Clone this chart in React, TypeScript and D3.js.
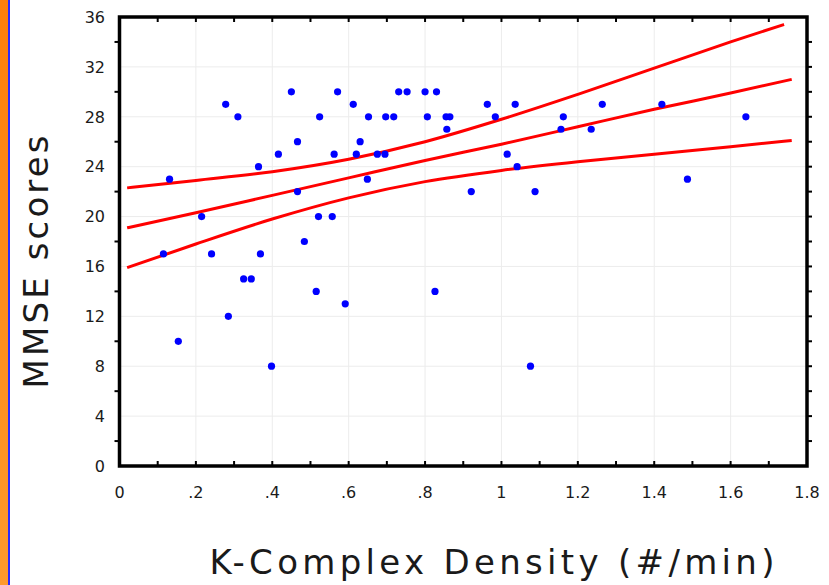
import React from "react";
import * as d3 from "d3";

// K-Complex density (#/min) and MMSE score of each subject
const kcDensity = [
  0.115, 0.131, 0.154, 0.215, 0.241, 0.278, 0.285, 0.31, 0.325, 0.345,
  0.364, 0.369, 0.398, 0.416, 0.45, 0.466, 0.466, 0.484, 0.515, 0.521,
  0.524, 0.557, 0.562, 0.571, 0.591, 0.612, 0.62, 0.63, 0.649, 0.652,
  0.675, 0.695, 0.697, 0.718, 0.731, 0.753, 0.8, 0.83, 0.806, 0.826,
  0.855, 0.865, 0.857, 0.921, 0.963, 0.984, 1.015, 1.036, 1.041, 1.076,
  1.088, 1.156, 1.162, 1.235, 1.264, 1.42, 1.487, 1.64,
];
const mmseScores = [
  17, 23, 10, 20, 17, 29, 12, 28, 15, 15,
  24, 17, 8, 25, 30, 26, 22, 18, 14, 20,
  28, 20, 25, 30, 13, 29, 25, 26, 23, 28,
  25, 25, 28, 28, 30, 30, 30, 30, 28, 14,
  28, 28, 27, 22, 29, 28, 25, 29, 24, 8,
  22, 27, 28, 27, 29, 29, 23, 28,
];

// regression line and 95% confidence band
const fitX = [0.02, 0.2, 0.4, 0.6, 0.8, 1.0, 1.2, 1.4, 1.6, 1.76];
const fitMid = [19.1, 20.3, 21.7, 23.1, 24.5, 25.8, 27.2, 28.6, 29.9, 31.0];
const fitLower = [15.9, 17.8, 19.8, 21.5, 22.8, 23.7, 24.4, 25.0, 25.6, 26.1];
const upperX = [0.02, 0.2, 0.4, 0.6, 0.8, 1.0, 1.2, 1.4, 1.6, 1.74];
const fitUpper = [22.3, 22.9, 23.6, 24.6, 26.0, 27.8, 29.8, 31.9, 34.0, 35.4];

const xTickValues = [0, 0.2, 0.4, 0.6, 0.8, 1.0, 1.2, 1.4, 1.6, 1.8];
const xTickLabels = ["0", ".2", ".4", ".6", ".8", "1", "1.2", "1.4", "1.6", "1.8"];
const yTickValues = [0, 4, 8, 12, 16, 20, 24, 28, 32, 36];
const xMinorTicks = [0.1, 0.2, 0.3, 0.4, 0.5, 0.6, 0.7, 0.8, 0.9, 1.0, 1.1, 1.2, 1.3, 1.4, 1.5, 1.6, 1.7];
const yMinorTicks = [2, 4, 6, 8, 10, 12, 14, 16, 18, 20, 22, 24, 26, 28, 30, 32, 34];
const yLeftTicks = [2, 6, 10, 14, 18, 22, 26, 30, 34];

const xTitle = "K-Complex Density (#/min)";
const yTitle = "MMSE scores";

export default function App() {
  const W = 829;
  const H = 585;
  const x = d3.scaleLinear().domain([0, 1.8]).range([119.5, 807]);
  const y = d3.scaleLinear().domain([0, 36]).range([466, 17]);
  const [x0, x1] = x.range();
  const [y0, y1] = y.range();

  const line = (xs: number[], ys: number[]) =>
    d3
      .line<number>()
      .x((_, i) => x(xs[i]))
      .y((d) => y(d))
      .curve(d3.curveMonotoneX)(ys) || "";

  const font = "'DejaVu Sans', Verdana, sans-serif";

  return (
    <svg
      width={W}
      height={H}
      style={{ position: "absolute", left: 0, top: 0, background: "#fff" }}
    >
      <defs>
        <linearGradient id="orange" x1="0" y1="0" x2="0" y2="1">
          <stop offset="0%" stopColor="#ff7f0a" />
          <stop offset="100%" stopColor="#ff9a2c" />
        </linearGradient>
      </defs>
      <rect x={0} y={0} width={8} height={H} fill="url(#orange)" />
      <rect x={8} y={0} width={2} height={H} fill="#2a2aff" />

      {/* grid */}
      {xTickValues.slice(1, -1).map((v) => (
        <line key={"gx" + v} x1={x(v)} x2={x(v)} y1={y1} y2={y0} stroke="#ececec" strokeWidth={1} />
      ))}
      {yTickValues.slice(1, -1).map((v) => (
        <line key={"gy" + v} x1={x0} x2={x1} y1={y(v)} y2={y(v)} stroke="#ececec" strokeWidth={1} />
      ))}

      {/* ticks */}
      {xMinorTicks.map((v) => (
        <g key={"tx" + v}>
          <line x1={x(v)} x2={x(v)} y1={y0} y2={y0 - 5} stroke="#000" strokeWidth={2} />
          <line x1={x(v)} x2={x(v)} y1={y1} y2={y1 + 5} stroke="#000" strokeWidth={2} />
        </g>
      ))}
      {yMinorTicks.map((v) => (
        <line key={"tr" + v} x1={x1} x2={x1 + 5} y1={y(v)} y2={y(v)} stroke="#000" strokeWidth={2} />
      ))}
      {yLeftTicks.map((v) => (
        <line key={"tl" + v} x1={x0} x2={x0 - 5} y1={y(v)} y2={y(v)} stroke="#000" strokeWidth={2} />
      ))}

      {/* fit lines */}
      <path d={line(upperX, fitUpper)} fill="none" stroke="#ff0000" strokeWidth={3} />
      <path d={line(fitX, fitMid)} fill="none" stroke="#ff0000" strokeWidth={3} />
      <path d={line(fitX, fitLower)} fill="none" stroke="#ff0000" strokeWidth={3} />

      {/* points */}
      {kcDensity.map((v, i) => (
        <circle key={"p" + i} cx={x(v)} cy={y(mmseScores[i])} r={3.6} fill="#0000ff" />
      ))}

      {/* frame */}
      <rect
        x={x0}
        y={y1}
        width={x1 - x0}
        height={y0 - y1}
        fill="none"
        stroke="#000"
        strokeWidth={3.5}
      />

      {/* tick labels */}
      {xTickValues.map((v, i) => (
        <text
          key={"lx" + v}
          x={x(v)}
          y={498}
          textAnchor="middle"
          fontFamily={font}
          fontSize={16}
          fill="#1a1a1a"
        >
          {xTickLabels[i]}
        </text>
      ))}
      {yTickValues.map((v) => (
        <text
          key={"ly" + v}
          x={105}
          y={y(v)}
          dy="0.36em"
          textAnchor="end"
          fontFamily={font}
          fontSize={16}
          fill="#1a1a1a"
        >
          {v}
        </text>
      ))}

      {/* titles */}
      <text
        x={492}
        y={574}
        textAnchor="middle"
        fontFamily={font}
        fontSize={34}
        fill="#1a1a1a"
        textLength={565}
        lengthAdjust="spacing"
      >
        {xTitle}
      </text>
      <text
        transform="translate(48,262) rotate(-90)"
        textAnchor="middle"
        fontFamily={font}
        fontSize={34}
        fill="#1a1a1a"
        textLength={253}
        lengthAdjust="spacing"
      >
        {yTitle}
      </text>
    </svg>
  );
}
